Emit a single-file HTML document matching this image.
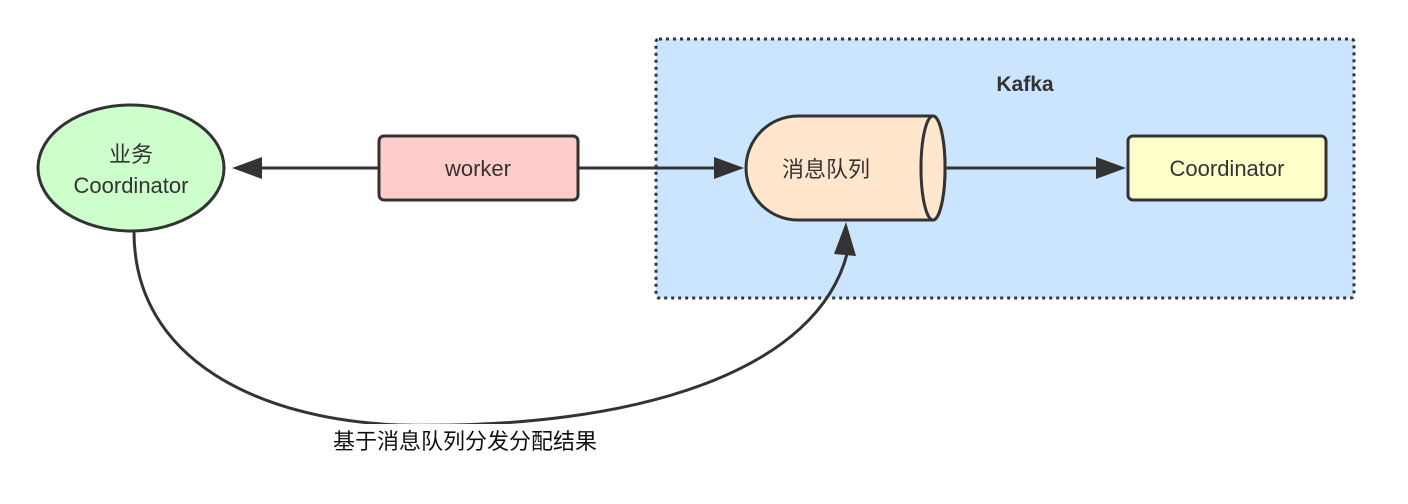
<!DOCTYPE html>
<html><head><meta charset="utf-8"><style>body{margin:0;background:#fff}svg{display:block}</style></head><body>
<svg width="1408" height="504" viewBox="0 0 1408 504" xmlns="http://www.w3.org/2000/svg" font-family="Liberation Sans, Noto Sans CJK SC, sans-serif">
<defs><marker id="a" markerWidth="10" markerHeight="10" refX="9" refY="5" orient="auto" markerUnits="userSpaceOnUse"><path d="M0,0 L0,0" /></marker></defs>
<rect x="656" y="39" width="698" height="259" rx="3" fill="#cce5ff" stroke="#333" stroke-width="3" stroke-dasharray="3,4"/>
<text x="1025" y="91" font-size="21" font-weight="bold" fill="#333" text-anchor="middle">Kafka</text>
<ellipse cx="131" cy="168" rx="93" ry="63" fill="#ccffcc" stroke="#333" stroke-width="3"/>
<text x="131" y="162" font-size="22" fill="#333" text-anchor="middle">业务</text>
<text x="131" y="193" font-size="22" fill="#333" text-anchor="middle">Coordinator</text>
<rect x="379" y="136" width="199" height="64" rx="5" fill="#ffcccc" stroke="#333" stroke-width="3"/>
<text x="478" y="176" font-size="22" fill="#333" text-anchor="middle">worker</text>
<path d="M798,116 L933,116 A12,52 0 0 1 933,220 L798,220 A52,52 0 0 1 798,116 Z" fill="#ffe6cc" stroke="#333" stroke-width="3"/>
<ellipse cx="933" cy="168" rx="12" ry="52" fill="#ffe6cc" stroke="#333" stroke-width="3"/>
<text x="826" y="177" font-size="22" fill="#333" text-anchor="middle">消息队列</text>
<rect x="1128" y="136" width="198" height="64" rx="5" fill="#ffffcc" stroke="#333" stroke-width="3"/>
<text x="1227" y="176" font-size="22" fill="#333" text-anchor="middle">Coordinator</text>
<g stroke="#333" stroke-width="3" fill="none">
<line x1="379" y1="168" x2="258" y2="168"/>
<line x1="578" y1="168" x2="718" y2="168"/>
<line x1="946" y1="168" x2="1098" y2="168"/>
<path d="M134,232 C134,360 260,420 400,425 C640,430 820,370 848,250"/>
</g>
<g fill="#333">
<polygon points="232,168 262,157 262,179"/>
<polygon points="744,168 714,157 714,179"/>
<polygon points="1126,168 1096,157 1096,179"/>
<polygon points="846,222 834,254 856,256"/>
</g>
<rect x="332" y="424" width="310" height="34" fill="#fff"/>
<text x="333" y="449" font-size="22" fill="#111">基于消息队列分发分配结果</text>
</svg>
</body></html>
